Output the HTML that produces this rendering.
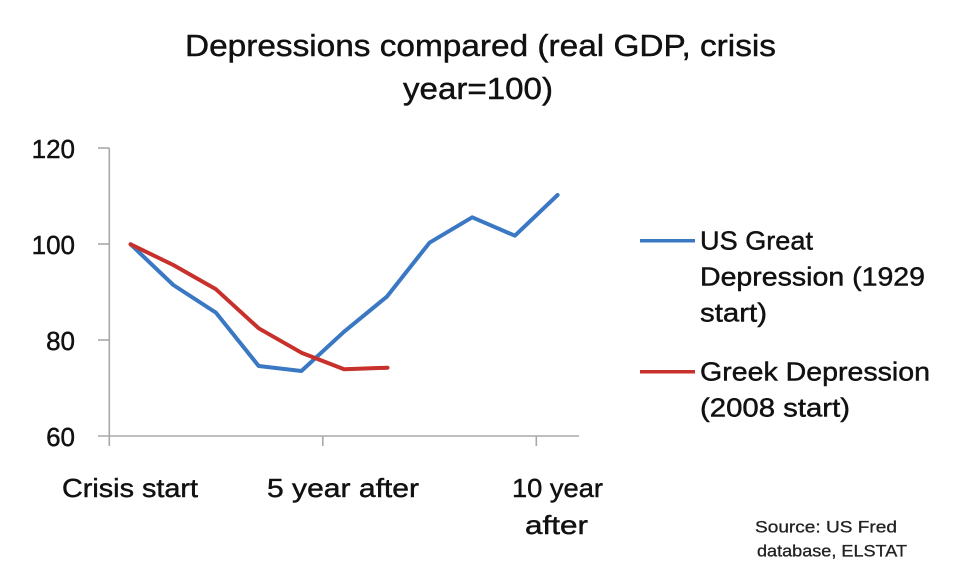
<!DOCTYPE html>
<html>
<head>
<meta charset="utf-8">
<style>
  html,body{margin:0;padding:0;background:#fff;}
  body{width:960px;height:579px;overflow:hidden;}
  svg{display:block;}
  text{font-family:"Liberation Sans", Arial, sans-serif;fill:#111;stroke:#111;stroke-width:0.45px;}
</style>
</head>
<body>
<svg width="960" height="579" viewBox="0 0 960 579" xmlns="http://www.w3.org/2000/svg">
  <rect x="0" y="0" width="960" height="579" fill="#fff"/>

  <!-- Title -->
  <text x="185" y="56" font-size="31" textLength="591" lengthAdjust="spacingAndGlyphs">Depressions compared (real GDP, crisis</text>
  <text x="403" y="99" font-size="31" textLength="150" lengthAdjust="spacingAndGlyphs">year=100)</text>

  <!-- Y axis -->
  <line x1="109.3" y1="148" x2="109.3" y2="436" stroke="#a8a8a8" stroke-width="1.6"/>
  <line x1="98" y1="148" x2="109.3" y2="148" stroke="#a8a8a8" stroke-width="1.6"/>
  <line x1="98" y1="244" x2="109.3" y2="244" stroke="#a8a8a8" stroke-width="1.6"/>
  <line x1="98" y1="340" x2="109.3" y2="340" stroke="#a8a8a8" stroke-width="1.6"/>
  <!-- X axis -->
  <line x1="98" y1="436" x2="579" y2="436" stroke="#a8a8a8" stroke-width="1.6"/>
  <line x1="109.3" y1="436" x2="109.3" y2="446" stroke="#a8a8a8" stroke-width="1.6"/>
  <line x1="322.8" y1="436" x2="322.8" y2="446" stroke="#a8a8a8" stroke-width="1.6"/>
  <line x1="536.3" y1="436" x2="536.3" y2="446" stroke="#a8a8a8" stroke-width="1.6"/>

  <!-- Y labels -->
  <text x="75" y="158" font-size="26" text-anchor="end">120</text>
  <text x="75" y="254" font-size="26" text-anchor="end">100</text>
  <text x="75" y="350" font-size="26" text-anchor="end">80</text>
  <text x="75" y="446" font-size="26" text-anchor="end">60</text>

  <!-- X labels -->
  <text x="62" y="497" font-size="26" textLength="136" lengthAdjust="spacingAndGlyphs">Crisis start</text>
  <text x="267" y="497" font-size="26" textLength="152" lengthAdjust="spacingAndGlyphs">5 year after</text>
  <text x="512" y="497" font-size="26" textLength="91" lengthAdjust="spacingAndGlyphs">10 year</text>
  <text x="525" y="534" font-size="26" textLength="63" lengthAdjust="spacingAndGlyphs">after</text>

  <!-- Series: US Great Depression -->
  <polyline fill="none" stroke="#3b78c4" stroke-width="4" stroke-linejoin="round" stroke-linecap="round"
    points="130.6,244.3 173.3,285 216,312.7 258.7,366 301.4,371 344.1,331.7 386.8,296.7 429.5,242.7 472.2,217.3 514.9,235.7 557.6,195"/>
  <!-- Series: Greek Depression -->
  <polyline fill="none" stroke="#c8302c" stroke-width="4" stroke-linejoin="round" stroke-linecap="round"
    points="130.6,244.3 173.3,265 216,289.3 258.7,328.3 301.4,352.7 344.1,369.3 387.5,367.7"/>

  <!-- Legend -->
  <line x1="640" y1="240.7" x2="695" y2="240.7" stroke="#3b78c4" stroke-width="3.5"/>
  <text x="700" y="249.5" font-size="26" textLength="113" lengthAdjust="spacingAndGlyphs">US Great</text>
  <text x="700" y="285.5" font-size="26" textLength="225" lengthAdjust="spacingAndGlyphs">Depression (1929</text>
  <text x="700" y="321.5" font-size="26" textLength="67" lengthAdjust="spacingAndGlyphs">start)</text>

  <line x1="640" y1="371.7" x2="695" y2="371.7" stroke="#c8302c" stroke-width="3.5"/>
  <text x="700" y="380.5" font-size="26" textLength="230" lengthAdjust="spacingAndGlyphs">Greek Depression</text>
  <text x="700" y="416.5" font-size="26" textLength="150" lengthAdjust="spacingAndGlyphs">(2008 start)</text>

  <!-- Source -->
  <text x="755" y="532.7" font-size="17" textLength="142" lengthAdjust="spacingAndGlyphs" style="fill:#222;stroke:#222;stroke-width:0.3px">Source: US Fred</text>
  <text x="757" y="556.7" font-size="17" textLength="150" lengthAdjust="spacingAndGlyphs" style="fill:#222;stroke:#222;stroke-width:0.3px">database, ELSTAT</text>
</svg>
</body>
</html>
